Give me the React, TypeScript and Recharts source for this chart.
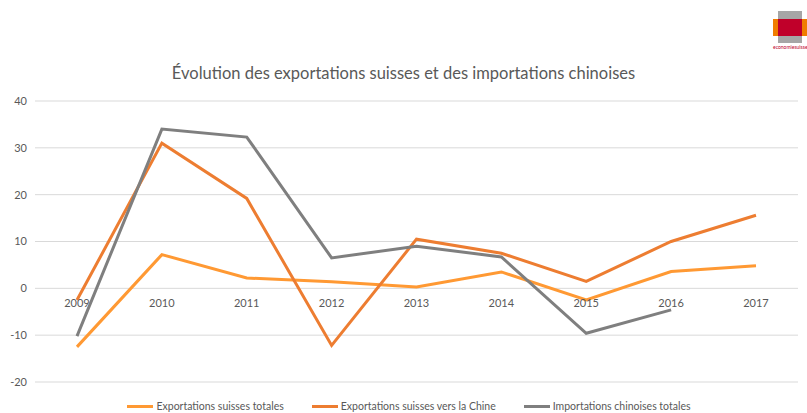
import React from "react";
import {
  LineChart,
  Line,
  XAxis,
  YAxis,
  CartesianGrid,
  Legend,
} from "recharts";

const years = ["2009", "2010", "2011", "2012", "2013", "2014", "2015", "2016", "2017"];
const exportsTotal = [-12.5, 7.2, 2.2, 1.4, 0.3, 3.5, -2.5, 3.6, 4.8];
const exportsChina = [-2.5, 31, 19.2, -12.2, 10.5, 7.5, 1.5, 10, 15.6];
const importsChina = [-10.2, 34, 32.3, 6.5, 9, 6.7, -9.6, -4.6, null];
const yTicks = [-20, -10, 0, 10, 20, 30, 40];

const SERIES = [
  { key: "total", name: "Exportations suisses totales", color: "#FF9933" },
  { key: "china", name: "Exportations suisses vers la Chine", color: "#ED7D31" },
  { key: "imports", name: "Importations chinoises totales", color: "#7F7F7F" },
];

const W = 807;
const H = 413;
const LEGEND_H = 14;
const X_AXIS_H = 1;
const MARGIN = { top: 101, right: 9, left: 8, bottom: 31 - LEGEND_H - X_AXIS_H };
const PLOT_H = H - 101 - 31;
const Y_MIN = yTicks[0];
const Y_MAX = yTicks[yTicks.length - 1];
// distance from plot bottom up to the zero line, so year labels sit under 0
const ZERO_SHIFT = (PLOT_H * (0 - Y_MIN)) / (Y_MAX - Y_MIN);

const FONT = "Lato, 'Open Sans', sans-serif";
const TEXT = "#595959";

const data = years.map((year, i) => ({
  year,
  total: exportsTotal[i],
  china: exportsChina[i],
  imports: importsChina[i],
}));

function YearTick(props: any) {
  const { x, y, payload } = props;
  return (
    <text
      x={x}
      y={y - ZERO_SHIFT + 11}
      textAnchor="middle"
      fill={TEXT}
      fontSize={11}
      fontFamily={FONT}
    >
      {payload.value}
    </text>
  );
}

function LegendContent() {
  return (
    <div
      style={{
        display: "flex",
        justifyContent: "center",
        gap: 28,
        fontFamily: FONT,
        fontSize: 10.5,
        color: TEXT,
        height: LEGEND_H,
        alignItems: "center",
        lineHeight: `${LEGEND_H}px`,
        paddingLeft: 12,
      }}
    >
      {SERIES.map((s) => (
        <div key={s.key} style={{ display: "flex", alignItems: "center" }}>
          <span
            style={{
              display: "inline-block",
              width: 26,
              height: 3,
              background: s.color,
              marginRight: 3,
            }}
          />
          <span>{s.name}</span>
        </div>
      ))}
    </div>
  );
}

function Logo() {
  return (
    <div style={{ position: "absolute", left: 773, top: 11, width: 34, height: 40 }}>
      <div style={{ position: "absolute", left: 5, top: 0, width: 24, height: 32, background: "#A6A6A6" }} />
      <div style={{ position: "absolute", left: 0, top: 8, width: 34, height: 17, background: "#F07D00" }} />
      <div style={{ position: "absolute", left: 5, top: 8, width: 24, height: 17, background: "#C0002A" }} />
      <div
        style={{
          position: "absolute",
          left: 0,
          top: 33,
          width: 34,
          fontSize: 5,
          lineHeight: "6px",
          color: "#C0002A",
          fontFamily: FONT,
          textAlign: "center",
        }}
      >
        economiesuisse
      </div>
    </div>
  );
}

export default function App() {
  return (
    <div style={{ position: "absolute", left: 0, top: 0, width: W, height: H, background: "#fff" }}>
      <div
        style={{
          position: "absolute",
          top: 63,
          left: 0,
          width: W,
          textAlign: "center",
          fontFamily: FONT,
          fontSize: 16.5,
          color: TEXT,
        }}
      >
        Évolution des exportations suisses et des importations chinoises
      </div>
      <Logo />
      <LineChart width={W} height={H} data={data} margin={MARGIN}>
        <CartesianGrid horizontal vertical={false} stroke="#D9D9D9" />
        <XAxis
          dataKey="year"
          axisLine={false}
          tickLine={false}
          height={X_AXIS_H}
          padding={{ left: 42, right: 42 }}
          tick={<YearTick />}
          interval={0}
        />
        <YAxis
          domain={[Y_MIN, Y_MAX]}
          ticks={yTicks}
          axisLine={false}
          tickLine={false}
          width={27}
          tick={{ fill: TEXT, fontSize: 11, fontFamily: FONT }}
        />
        <Legend
          verticalAlign="bottom"
          content={<LegendContent />}
          wrapperStyle={{ bottom: 0, height: LEGEND_H }}
        />
        {SERIES.map((s) => (
          <Line
            key={s.key}
            type="linear"
            dataKey={s.key}
            name={s.name}
            stroke={s.color}
            strokeWidth={3}
            dot={false}
            activeDot={false}
            isAnimationActive={false}
          />
        ))}
      </LineChart>
    </div>
  );
}
